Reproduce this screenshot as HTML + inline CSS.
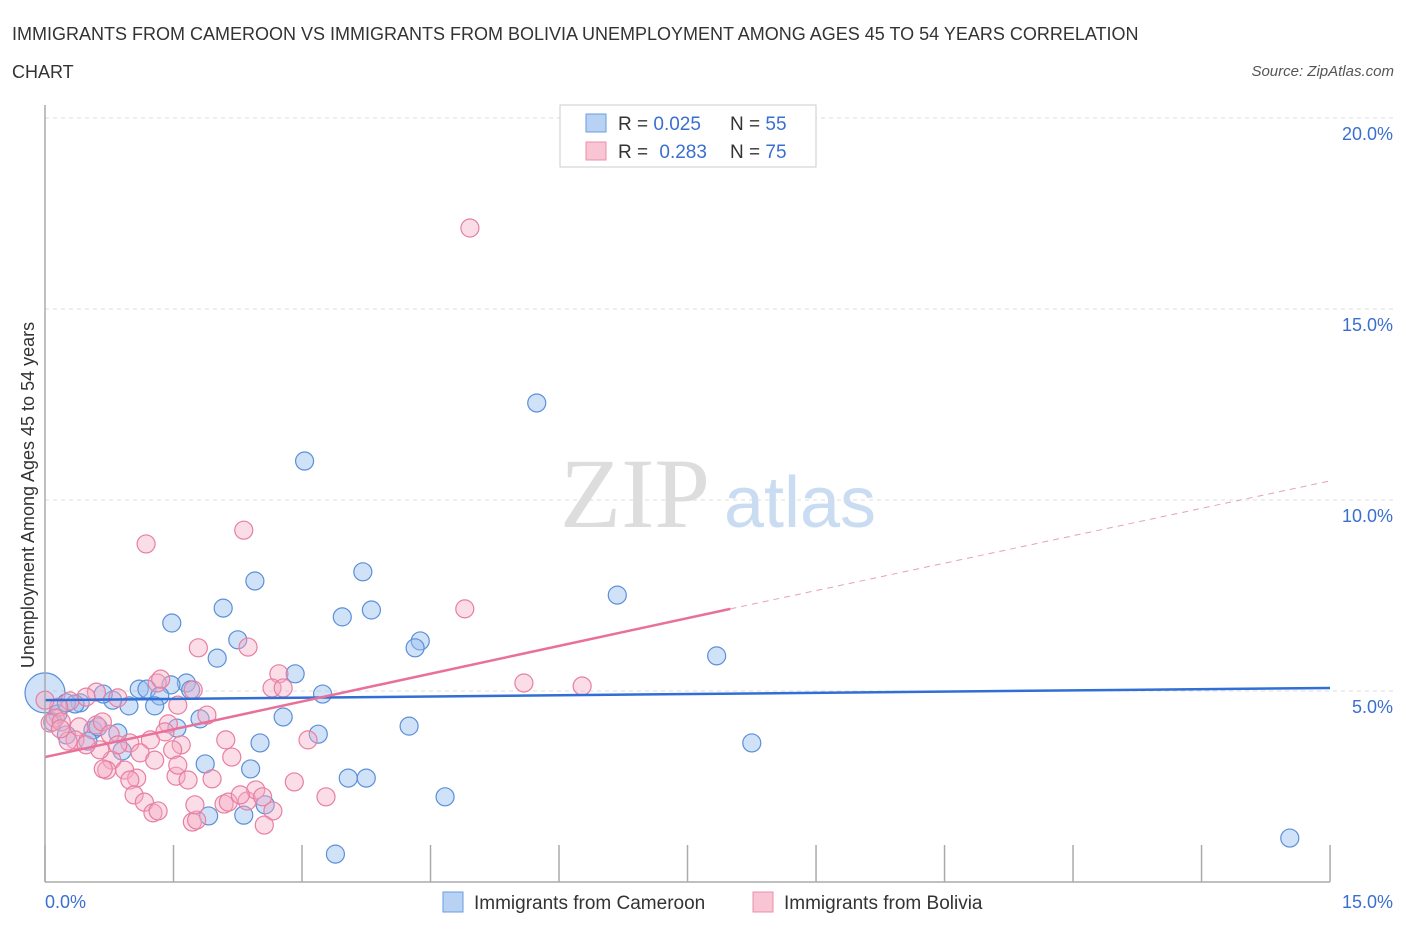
<!DOCTYPE html>
<html><head><meta charset="utf-8"><style>
body{margin:0;background:#fff;font-family:"Liberation Sans",sans-serif;}
</style></head><body>
<svg width="1406" height="930" xmlns="http://www.w3.org/2000/svg" id="chart">
<text x="12" y="40" font-size="18" fill="#333">IMMIGRANTS FROM CAMEROON VS IMMIGRANTS FROM BOLIVIA UNEMPLOYMENT AMONG AGES 45 TO 54 YEARS CORRELATION</text>
<text x="12" y="78" font-size="18" fill="#333">CHART</text>
<text x="1394" y="76" font-size="15" fill="#555" font-style="italic" text-anchor="end">Source: ZipAtlas.com</text>
<text x="635" y="527" font-size="100" fill="#ddd" font-family="Liberation Serif" text-anchor="middle">ZIP</text>
<text x="800" y="527" font-size="72" fill="#c9dcf2" text-anchor="middle">atlas</text>
<text transform="translate(34,495) rotate(-90)" font-size="18" fill="#333" text-anchor="middle">Unemployment Among Ages 45 to 54 years</text>
<g id="grid"></g><g id="pts"></g><g id="lines"></g>
<line x1="45" y1="105" x2="45" y2="882" stroke="#aaa" stroke-width="1.5"/>
<line x1="45" y1="882" x2="1330" y2="882" stroke="#aaa" stroke-width="1.5"/>
<text x="45" y="908" font-size="18" fill="#3a6fd0">0.0%</text>
<text x="1393" y="908" font-size="18" fill="#3a6fd0" text-anchor="end">15.0%</text>
<g>
<rect x="560" y="105" width="256" height="62" fill="#fff" stroke="#ccc"/>
<rect x="586" y="114" width="20" height="18" fill="#b8d2f4" stroke="#6a9be0"/>
<rect x="586" y="142" width="20" height="18" fill="#f9c4d3" stroke="#e890ad"/>
<text x="618" y="130" font-size="19" fill="#333">R = <tspan fill="#3a6fd0">0.025</tspan><tspan x="730">N = </tspan><tspan fill="#3a6fd0">55</tspan></text>
<text x="618" y="158" font-size="19" fill="#333">R = <tspan fill="#3a6fd0" dx="6">0.283</tspan><tspan x="730">N = </tspan><tspan fill="#3a6fd0">75</tspan></text>
</g>
<g>
<rect x="443" y="892" width="20" height="20" fill="#b8d2f4" stroke="#6a9be0"/>
<text x="474" y="909" font-size="19" fill="#333">Immigrants from Cameroon</text>
<rect x="753" y="892" width="20" height="20" fill="#f9c4d3" stroke="#e890ad"/>
<text x="784" y="909" font-size="19" fill="#333">Immigrants from Bolivia</text>
</g>
</svg>
<script>
const blueX=[3.03,5.74,2.45,3.71,2.08,1.48,3.47,3.81,6.68,2.25,2.01,4.38,4.32,7.84,2.92,1.65,1.10,1.19,1.47,1.34,1.28,1.70,0.98,0.79,0.68,0.41,3.24,2.78,1.81,0.85,0.56,0.62,0.50,0.25,1.54,3.19,2.51,0.90,1.87,2.40,3.54,3.75,4.67,8.25,4.25,2.57,2.32,1.91,3.39,14.53,0,0.15,0.09,0.25,0.35];
const blueY=[11.02,12.54,7.88,8.12,7.17,6.78,6.94,7.12,7.51,6.34,5.86,6.31,6.13,5.92,5.45,5.21,5.05,5.05,5.16,4.87,4.61,5.03,4.61,4.76,4.92,4.69,4.92,4.32,4.27,3.90,3.98,4.06,3.69,3.85,4.03,3.87,3.64,3.43,3.09,2.96,2.72,2.72,2.23,3.64,4.08,2.02,1.75,1.73,0.73,1.15,4.95,4.40,4.19,4.69,4.66];
const pinkX=[4.96,1.18,2.32,4.90,1.79,2.37,5.59,6.27,2.73,2.65,2.78,1.31,1.35,1.73,1.55,1.89,0.85,0.60,0.48,0.29,0.16,0.12,0.06,0.19,0.40,0.60,0.67,0.35,0.27,0.76,0.99,1.23,1.44,1.59,1.40,1.49,1.11,0.78,2.11,2.18,1.95,0.93,0.72,0.68,1.07,1.53,0.99,1.04,1.16,1.26,1.32,1.72,1.77,2.09,2.14,2.36,2.46,2.54,2.66,2.56,2.91,3.28,3.07,0.64,0.48,0.18,0,0.85,1.55,1.67,1.28,2.28,1.75];
const pinkY=[17.12,8.85,9.21,7.15,6.13,6.15,5.21,5.13,5.45,5.08,5.08,5.21,5.31,5.03,4.63,4.37,4.82,4.97,4.84,4.74,4.58,4.29,4.16,4.19,4.06,4.11,4.19,3.72,3.69,3.87,3.64,3.72,4.14,3.59,3.93,3.46,3.38,3.19,3.72,3.27,2.70,2.93,2.93,2.96,2.72,2.77,2.67,2.28,2.09,1.81,1.86,1.57,1.62,2.04,2.09,2.12,2.41,2.23,1.86,1.49,2.62,2.23,3.72,3.46,3.59,4.01,4.76,3.59,3.06,2.67,3.19,2.28,2.02];
const yTicks=[5,10,15,20];
const xTicks=[0,1.5,3,4.5,6,7.5,9,10.5,12,13.5,15];
const blueTrend=[4.76,5.08];
const pinkTrend=[3.27,7.15,10.5];
const pinkSolidEnd=8;
const sx=v=>45+v*85.67, sy=v=>882-v*38.2;
const NS="http://www.w3.org/2000/svg";
function mk(tag,attrs,parent){const e=document.createElementNS(NS,tag);for(const k in attrs)e.setAttribute(k,attrs[k]);document.getElementById(parent).appendChild(e);return e;}
yTicks.forEach(t=>{
 const l=mk('line',{x1:45,x2:1395,y1:sy(t),y2:sy(t),stroke:'#ddd','stroke-dasharray':'4,4'},'grid');
 
 
 const tx=mk('text',{x:1393,y:sy(t)+22,'font-size':18,fill:'#3a6fd0','text-anchor':'end'},'grid');
 tx.textContent=t.toFixed(1)+'%';
 
 
});
xTicks.forEach(t=>{
 const l=mk('line',{x1:sx(t),x2:sx(t),y1:845,y2:882,stroke:'#aaa','stroke-width':1.5},'grid');
 
 
});
blueX.forEach((x,i)=>{
 const big=(x===0);
 const c=mk('circle',{cx:sx(x),cy:sy(blueY[i]),r:big?20:9,fill:'rgba(150,190,240,0.45)',stroke:'#5b8fd8','stroke-width':1.2},'pts');
 
 
});
pinkX.forEach((x,i)=>{
 const c=mk('circle',{cx:sx(x),cy:sy(pinkY[i]),r:9,fill:'rgba(244,170,195,0.4)',stroke:'#e87fa0','stroke-width':1.2},'pts');
 
 
});
const bl=mk('line',{x1:sx(0),y1:sy(blueTrend[0]),x2:sx(15),y2:sy(blueTrend[1]),stroke:'#2f6fd6','stroke-width':2.5},'lines');


const pl=mk('line',{x1:sx(0),y1:sy(pinkTrend[0]),x2:sx(pinkSolidEnd),y2:sy(pinkTrend[1]),stroke:'#e8709a','stroke-width':2.5},'lines');


const pd=mk('line',{x1:sx(pinkSolidEnd),y1:sy(pinkTrend[1]),x2:sx(15),y2:sy(pinkTrend[2]),stroke:'#e8a0b8','stroke-width':1,'stroke-dasharray':'6,5'},'lines');


</script>
</body></html>
